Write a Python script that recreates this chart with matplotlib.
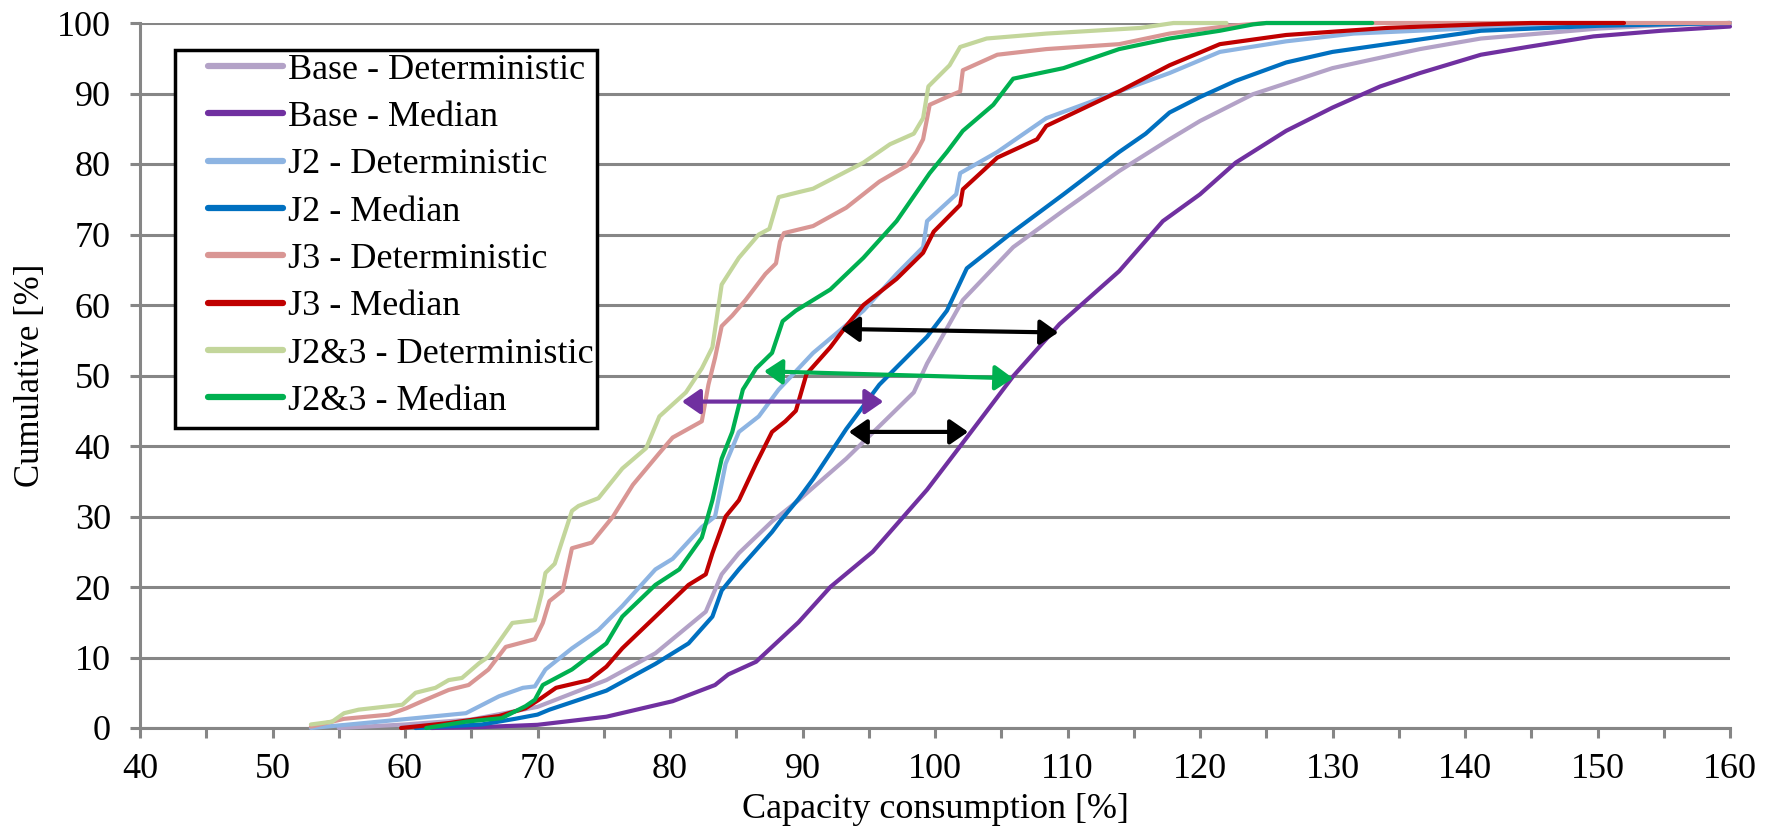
import matplotlib
matplotlib.use("Agg")
import matplotlib.pyplot as plt
from matplotlib.patches import Rectangle
from matplotlib.ticker import MultipleLocator

plt.rcParams['font.family'] = ['Liberation Serif', 'DejaVu Serif']

# cumulative curves (x = capacity consumption %, y = cumulative %)
base_det_x = [55, 60, 65, 70, 75.2, 78.9, 82.7, 83.9, 85.2, 87.7, 89.7, 93.3, 98.4, 99.4, 102.1,
              105.9, 109.7, 113.9, 117.7, 120, 124, 130, 136.6, 141.2, 150, 155, 160]
base_det_y = [0, 0.5, 1.2, 3.0, 6.8, 10.6, 16.5, 21.8, 24.8, 29.3, 32.3, 38.2, 47.6, 51.7, 60.7,
              68.2, 73.4, 79.0, 83.5, 86.1, 89.9, 93.6, 96.3, 97.8, 99.2, 99.7, 100]

base_med_x = [62, 66, 70, 75.2, 80.2, 83.4, 84.4, 86.5, 89.7, 92.1, 95.3, 99.4, 102.4, 105.9,
              109.4, 113.9, 117.2, 120, 122.7, 126.5, 130, 133.6, 136.6, 141.2, 144.7, 149.7,
              154.8, 160]
base_med_y = [0, 0.15, 0.45, 1.6, 3.8, 6.1, 7.6, 9.4, 15.0, 20.0, 25.0, 33.8, 41.2, 49.9,
              57.3, 64.8, 71.9, 75.7, 80.2, 84.7, 88.0, 91.0, 92.9, 95.5, 96.6, 98.1,
              98.9, 99.5]

j2_det_x = [52.9, 55.8, 60.8, 64.6, 67.1, 68.9, 69.8, 70.6, 72.6, 74.6, 76.4, 78.9, 80.2, 82.4,
            83.4, 84.2, 85.2, 86.7, 88.2, 89.7, 90.8, 94.6, 97.1, 99.1, 99.4, 101.6, 101.9,
            104.7, 108.4, 113.9, 117.7, 121.5, 126.5, 131.6, 141.2, 150, 160]
j2_det_y = [0, 0.5, 1.4, 2.1, 4.5, 5.7, 5.9, 8.3, 11.3, 13.9, 17.3, 22.5, 24.0, 28.5,
            30.0, 37.5, 42.0, 44.2, 48.0, 51.0, 53.2, 59.2, 64.4, 68.2, 71.9, 75.7, 78.7,
            81.7, 86.5, 90.3, 92.9, 95.9, 97.4, 98.5, 99.3, 99.8, 100]

j2_med_x = [60.8, 65.8, 68.3, 70, 70.9, 75.2, 78.9, 81.4, 83.2, 83.9, 85.2, 87.7, 88.3, 89.7,
            90.8, 93.3, 95.8, 99.4, 100.9, 102.4, 105.9, 109.7, 113.9, 115.9, 117.7, 120,
            122.7, 126.5, 130, 134.1, 141.2, 150, 160]
j2_med_y = [0, 0.5, 1.3, 1.9, 2.6, 5.3, 9.1, 12.0, 15.8, 19.5, 22.5, 27.8, 29.3, 32.5,
            35.3, 42.4, 48.7, 55.5, 59.2, 65.2, 70.4, 75.7, 81.7, 84.3, 87.3, 89.5,
            91.8, 94.4, 95.9, 97.0, 98.9, 99.6, 100]

j3_det_x = [52.9, 55.4, 58.8, 60.1, 61.3, 63.3, 64.8, 66.3, 67.6, 69.8, 70.4, 70.9, 71.9, 72.6,
            74.1, 75.7, 77.2, 79.2, 80.2, 82.4, 82.9, 83.4, 83.9, 84.7, 85.7, 87.2, 88.0, 88.3,
            88.6, 90.8, 93.3, 95.8, 97.9, 98.6, 99.1, 99.6, 100.9, 101.9, 102.1, 104.7, 108.4,
            113.9, 117.7, 122.2, 125.0, 160]
j3_det_y = [0.2, 1.3, 1.9, 2.8, 3.8, 5.4, 6.1, 8.3, 11.5, 12.6, 14.9, 18.0, 19.5, 25.5,
            26.3, 30.0, 34.5, 39.0, 41.2, 43.5, 48.7, 52.5, 57.0, 58.5, 60.7, 64.4, 65.9, 69.0,
            70.2, 71.2, 73.8, 77.5, 79.8, 81.7, 83.5, 88.4, 89.5, 90.3, 93.3, 95.5, 96.3,
            97.0, 98.5, 99.6, 100, 100]

j3_med_x = [59.7, 63.3, 67.1, 69.1, 70.1, 71.4, 73.9, 75.2, 76.4, 78.9, 81.4, 82.7, 83.2, 84.2,
            85.2, 86.5, 87.7, 88.7, 89.5, 90.3, 92.1, 93.3, 94.6, 97.1, 99.1, 99.9, 101.9,
            102.1, 104.7, 107.7, 108.4, 113.9, 117.7, 121.5, 126.5, 134.1, 141.2, 145, 152]
j3_med_y = [0, 0.7, 1.7, 2.8, 4.0, 5.7, 6.8, 8.7, 11.3, 15.8, 20.3, 21.8, 24.8, 30.0,
            32.3, 37.5, 42.0, 43.5, 45.0, 50.2, 54.0, 57.0, 60.0, 63.7, 67.4, 70.4, 74.2,
            76.4, 80.9, 83.5, 85.4, 90.3, 94.0, 97.0, 98.3, 99.3, 99.8, 100, 100]

j23_det_x = [52.9, 54.5, 55.4, 56.5, 59.8, 60.8, 62.3, 63.3, 64.3, 65.6, 66.3, 68.1, 69.8, 70.3,
             70.6, 71.3, 72.6, 73.1, 74.6, 76.4, 78.2, 79.2, 81.2, 82.4, 83.2, 83.9, 85.2,
             86.7, 87.5, 88.2, 89.7, 90.8, 94.6, 96.6, 98.4, 99.1, 99.5, 101.1, 101.9, 103.9,
             108.4, 115.5, 118, 122]
j23_det_y = [0.5, 0.9, 2.1, 2.6, 3.3, 5.0, 5.7, 6.8, 7.1, 9.2, 10.1, 14.9, 15.3, 19.0,
             22.0, 23.3, 30.8, 31.5, 32.6, 36.8, 39.7, 44.2, 47.6, 51.0, 54.0, 62.9, 66.7,
             70.0, 70.8, 75.3, 76.0, 76.5, 80.2, 82.8, 84.3, 86.5, 91.0, 94.0, 96.6, 97.8,
             98.5, 99.3, 100, 100]

j23_med_x = [61.6, 64.6, 67.3, 69.1, 69.8, 70.4, 70.9, 72.6, 75.2, 76.4, 78.9, 80.7, 82.4, 83.2,
             83.9, 84.7, 85.5, 86.5, 87.7, 88.5, 89.5, 92.1, 94.6, 97.1, 99.6, 100.9, 102.1,
             104.4, 105.9, 109.7, 113.9, 117.7, 121.5, 124.0, 125, 133]
j23_med_y = [0, 0.9, 1.4, 3.1, 4.0, 6.1, 6.6, 8.3, 12.0, 15.8, 20.3, 22.5, 27.0, 32.3,
             38.2, 42.0, 48.0, 51.0, 53.2, 57.7, 59.2, 62.2, 66.7, 71.9, 78.7, 81.7, 84.7,
             88.4, 92.1, 93.6, 96.3, 97.8, 98.9, 99.8, 100, 100]

labels = ['Base - Deterministic', 'Base - Median', 'J2 - Deterministic', 'J2 - Median',
          'J3 - Deterministic', 'J3 - Median', 'J2&3 - Deterministic', 'J2&3 - Median']
colors = ['#B3A2C7', '#7030A0', '#8DB4E2', '#0070C0',
          '#D99694', '#C00000', '#C3D69B', '#00B050']
xs = [base_det_x, base_med_x, j2_det_x, j2_med_x, j3_det_x, j3_med_x, j23_det_x, j23_med_x]
ys = [base_det_y, base_med_y, j2_det_y, j2_med_y, j3_det_y, j3_med_y, j23_det_y, j23_med_y]

# double-headed arrows: (x left, y left, x right, y right, colour)
arrows = [(92.9, 56.6, 109.3, 56.1, 'black'),
          (87.1, 50.6, 105.9, 49.6, '#00B050'),
          (80.9, 46.3, 96.1, 46.3, '#7030A0'),
          (93.5, 42.0, 102.5, 42.0, 'black')]

grey = '#868686'
fig = plt.figure(figsize=(17.73, 8.27), dpi=100)
ax = fig.add_axes([140 / 1773, 1 - 728 / 827, 1590 / 1773, 705 / 827])

for x, y, c, lab in zip(xs, ys, colors, labels):
    ax.plot(x, y, color=c, lw=3.0, label=lab, solid_joinstyle='round',
            solid_capstyle='round', clip_on=False, zorder=3)

for x0, y0, x1, y1, c in arrows:
    ax.annotate('', xy=(x1, y1), xytext=(x0, y0),
                arrowprops=dict(arrowstyle='<|-|>,head_length=0.55,head_width=0.38',
                                color=c, lw=3, mutation_scale=20,
                                shrinkA=0, shrinkB=0), zorder=5)

ax.set_xlim(40, 160)
ax.set_ylim(0, 100)
ax.xaxis.set_major_locator(MultipleLocator(10))
ax.xaxis.set_minor_locator(MultipleLocator(5))
ax.yaxis.set_major_locator(MultipleLocator(10))
ax.grid(axis='y', color=grey, lw=2.2, zorder=0)
ax.set_axisbelow(True)
for s in ['top', 'right']:
    ax.spines[s].set_visible(False)
for s in ['left', 'bottom']:
    ax.spines[s].set_color(grey)
    ax.spines[s].set_linewidth(2.2)
ax.tick_params(axis='both', which='both', direction='out', color=grey, width=2.2,
               length=7, labelsize=26)
ax.tick_params(axis='x', pad=11)
ax.tick_params(axis='y', pad=14)

ax.set_xlabel('Capacity consumption [%]', fontsize=26, labelpad=5)
ax.set_ylabel('Cumulative [%]', fontsize=25, labelpad=7)

# legend frame drawn as its own box, legend entries placed inside it
box = Rectangle((0.022, 0.4255), 0.2654, 0.5362, transform=ax.transAxes,
                facecolor='white', edgecolor='black', lw=2.5, zorder=5.5)
ax.add_patch(box)
leg = ax.legend(loc='upper left', bbox_to_anchor=(0.0428, 0.957), fontsize=26,
                frameon=False, handlelength=2.08, handletextpad=0.14,
                labelspacing=0.39, borderpad=0, borderaxespad=0)
for h in leg.get_lines():
    h.set_linewidth(4.5)
leg.set_zorder(6)

fig.savefig('out.png', dpi=100)
